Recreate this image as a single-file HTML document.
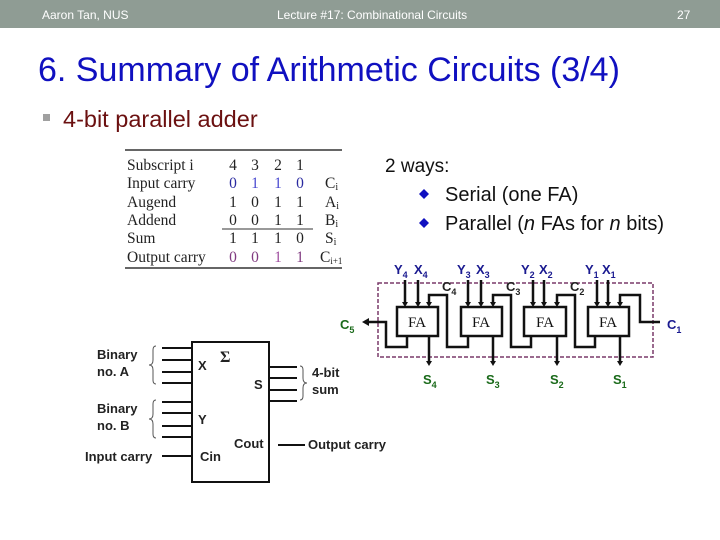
<!DOCTYPE html>
<html><head><meta charset="utf-8"><style>
html,body{margin:0;padding:0;background:#fff}
body{width:720px;height:540px;overflow:hidden;position:relative;font-family:"Liberation Sans",sans-serif}
</style></head><body>
<svg width="720" height="540" viewBox="0 0 720 540" xmlns="http://www.w3.org/2000/svg" style="position:absolute;left:0;top:0">
<rect x="0" y="0" width="720" height="28" fill="#8f9c94"/>
<g font-family="Liberation Sans, sans-serif" font-size="12" fill="#fff">
<text x="42" y="19">Aaron Tan, NUS</text>
<text x="277" y="19">Lecture #17: Combinational Circuits</text>
<text x="677" y="19">27</text>
</g>
<text x="38" y="81" font-size="34" fill="#1010c0" font-family="Liberation Sans, sans-serif">6. Summary of Arithmetic Circuits (3/4)</text>
<rect x="43" y="114" width="7" height="7" fill="#a0a0a0"/>
<text x="63" y="127" font-size="23.5" fill="#6b1010" font-family="Liberation Sans, sans-serif">4-bit parallel adder</text>

<!-- table -->
<g font-family="Liberation Serif, serif" font-size="15.5" fill="#222">
<line x1="125" y1="150" x2="342" y2="150" stroke="#333" stroke-width="1.5"/>
<line x1="222" y1="229" x2="313" y2="229" stroke="#333" stroke-width="1"/>
<line x1="125" y1="268" x2="342" y2="268" stroke="#333" stroke-width="1.5"/>
<text x="127" y="170">Subscript i</text>
<text x="127" y="188">Input carry</text>
<text x="127" y="207">Augend</text>
<text x="127" y="225">Addend</text>
<text x="127" y="243">Sum</text>
<text x="127" y="262">Output carry</text>
<g text-anchor="middle">
<text x="233" y="170">4</text><text x="255" y="170">3</text><text x="278" y="170">2</text><text x="300" y="170">1</text>
<text x="233" y="188" fill="#2a2aa0">0</text><text x="255" y="188" fill="#4a4ad0">1</text><text x="278" y="188" fill="#4a4ad0">1</text><text x="300" y="188" fill="#2a2aa0">0</text>
<text x="233" y="207">1</text><text x="255" y="207">0</text><text x="278" y="207">1</text><text x="300" y="207">1</text>
<text x="233" y="225">0</text><text x="255" y="225">0</text><text x="278" y="225">1</text><text x="300" y="225">1</text>
<text x="233" y="243">1</text><text x="255" y="243">1</text><text x="278" y="243">1</text><text x="300" y="243">0</text>
<text x="233" y="262" fill="#803a80">0</text><text x="255" y="262" fill="#803a80">0</text><text x="278" y="262" fill="#a050a0">1</text><text x="300" y="262" fill="#803a80">1</text>
</g>
<text x="325" y="188">C<tspan font-size="10" dy="2">i</tspan></text>
<text x="325" y="207">A<tspan font-size="10" dy="2">i</tspan></text>
<text x="325" y="225">B<tspan font-size="10" dy="2">i</tspan></text>
<text x="325" y="243">S<tspan font-size="10" dy="2">i</tspan></text>
<text x="320" y="262">C<tspan font-size="9" dy="2">i+1</tspan></text>
</g>

<g font-family="Liberation Sans, sans-serif" font-size="20" fill="#111">
<text x="385" y="172" font-size="19">2 ways:</text>
<path d="M424 189 l5 5 -5 5 -5 -5z" fill="#1010c0"/>
<path d="M424 218 l5 5 -5 5 -5 -5z" fill="#1010c0"/>
<text x="445" y="201">Serial (one FA)</text>
<text x="445" y="230">Parallel (<tspan font-style="italic">n</tspan> FAs for <tspan font-style="italic">n</tspan> bits)</text>
</g>

<!-- parallel adder -->
<rect x="378" y="283" width="275" height="74" fill="none" stroke="#7a3a6a" stroke-width="1.5" stroke-dasharray="4,2"/>
<g stroke="#111" stroke-width="2.5" fill="none">
<rect x="397" y="307" width="41" height="29" fill="#fff"/>
<rect x="461" y="307" width="41" height="29" fill="#fff"/>
<rect x="524" y="307" width="42" height="29" fill="#fff"/>
<rect x="588" y="307" width="41" height="29" fill="#fff"/>
<path d="M405 280V305M418 280V305M468 280V305M481 280V305M533 280V305M544 280V305M597 280V305M608 280V305"/>
<path d="M468 336V347H447V295H429V305"/>
<path d="M531 336V347H511V295H493V305"/>
<path d="M595 336V347H575V295H557V305"/>
<path d="M407 336V347H386V322H368"/>
<path d="M660 322H640V295H620V305"/>
<path d="M429 336V363M493 336V363M557 336V363M620 336V363"/>
</g>
<g fill="#111">
<path d="M362 322l7 -4v8z"/>
<path d="M429 366l-3 -5h6z M493 366l-3 -5h6z M557 366l-3 -5h6z M620 366l-3 -5h6z"/>
<path d="M405 307l-3 -5h6z M418 307l-3 -5h6z M429 307l-3 -5h6z M468 307l-3 -5h6z M481 307l-3 -5h6z M493 307l-3 -5h6z M533 307l-3 -5h6z M544 307l-3 -5h6z M557 307l-3 -5h6z M597 307l-3 -5h6z M608 307l-3 -5h6z M620 307l-3 -5h6z"/>
</g>
<g font-family="Liberation Serif, serif" font-size="15" fill="#111" text-anchor="middle">
<text x="417" y="327">FA</text><text x="481" y="327">FA</text><text x="545" y="327">FA</text><text x="608" y="327">FA</text>
</g>
<g font-family="Liberation Sans, sans-serif" font-size="13" font-weight="bold">
<g fill="#1a1a90">
<text x="394" y="274">Y<tspan font-size="9" dy="4">4</tspan></text><text x="414" y="274" dy="0">X<tspan font-size="9" dy="4">4</tspan></text>
<text x="457" y="274">Y<tspan font-size="9" dy="4">3</tspan></text><text x="476" y="274">X<tspan font-size="9" dy="4">3</tspan></text>
<text x="521" y="274">Y<tspan font-size="9" dy="4">2</tspan></text><text x="539" y="274">X<tspan font-size="9" dy="4">2</tspan></text>
<text x="585" y="274">Y<tspan font-size="9" dy="4">1</tspan></text><text x="602" y="274">X<tspan font-size="9" dy="4">1</tspan></text>
<text x="667" y="329">C<tspan font-size="9" dy="4">1</tspan></text>
</g>
<g fill="#222">
<text x="442" y="291">C<tspan font-size="9" dy="4">4</tspan></text>
<text x="506" y="291">C<tspan font-size="9" dy="4">3</tspan></text>
<text x="570" y="291">C<tspan font-size="9" dy="4">2</tspan></text>
</g>
<g fill="#1a6a1a">
<text x="340" y="329">C<tspan font-size="9" dy="4">5</tspan></text>
<text x="423" y="384">S<tspan font-size="9" dy="4">4</tspan></text>
<text x="486" y="384">S<tspan font-size="9" dy="4">3</tspan></text>
<text x="550" y="384">S<tspan font-size="9" dy="4">2</tspan></text>
<text x="613" y="384">S<tspan font-size="9" dy="4">1</tspan></text>
</g>
</g>

<!-- block symbol -->
<g stroke="#111" stroke-width="2" fill="none">
<rect x="192" y="342" width="77" height="140"/>
<path d="M162 348H192M162 360H192M162 372H192M162 383H192"/>
<path d="M162 402H192M162 413H192M162 426H192M162 437H192"/>
<path d="M162 456H192"/>
<path d="M269 367H297M269 378H297M269 390H297M269 401H297"/>
<path d="M278 445H305"/>
</g>
<g stroke="#555" stroke-width="1" fill="none">
<path d="M156 346q-3 0-3 4v10q0 5-4 5 4 0 4 5v10q0 4 3 4"/>
<path d="M156 400q-3 0-3 4v10q0 5-4 5 4 0 4 5v10q0 4 3 4"/>
<path d="M300 366q3 0 3 4v8q0 5 4 5-4 0-4 5v8q0 4-3 4"/>
</g>
<g font-family="Liberation Sans, sans-serif" font-size="13" font-weight="bold" fill="#222">
<text x="97" y="359">Binary</text><text x="97" y="376">no. A</text>
<text x="97" y="413">Binary</text><text x="97" y="430">no. B</text>
<text x="85" y="461">Input carry</text>
<text x="198" y="370">X</text>
<text x="198" y="424">Y</text>
<text x="200" y="461">Cin</text>
<text x="234" y="448">Cout</text>
<text x="254" y="389">S</text>
<text x="220" y="362" font-family="Liberation Serif, serif" font-size="16">Σ</text>
<text x="312" y="377">4-bit</text><text x="312" y="394">sum</text>
<text x="308" y="449">Output carry</text>
</g>
</svg>
</body></html>
